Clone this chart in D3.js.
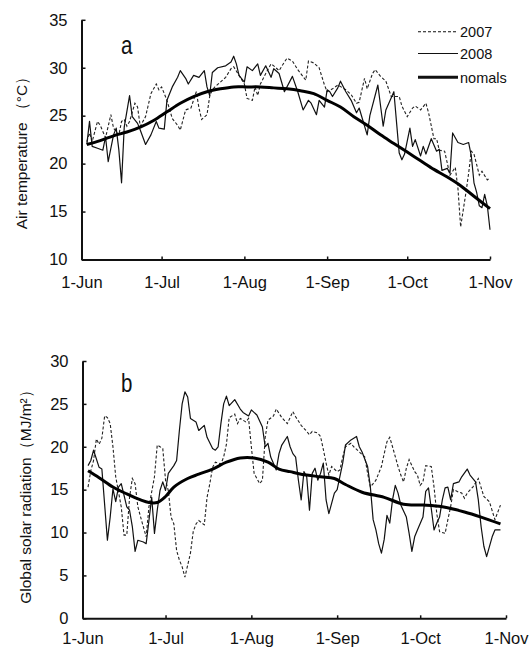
<!DOCTYPE html>
<html>
<head>
<meta charset="utf-8">
<script src="https://cdn.jsdelivr.net/npm/d3@7"></script>
<style>
  html, body { margin: 0; padding: 0; background: #fff; }
  svg { display: block; }
  text { font-family: Arial, "Liberation Sans", sans-serif; fill: #111; }
</style>
</head>
<body>
<svg id="chart" width="529" height="655"></svg>
<script>
// ---------------- DATA (day = days after 1 June) ----------------
const monthTicks = ["1-Jun", "1-Jul", "1-Aug", "1-Sep", "1-Oct", "1-Nov"];
const seriesNames = ["2007", "2008", "nomals"];
const tempTicks = [10, 15, 20, 25, 30, 35];
const radTicks = [0, 5, 10, 15, 20, 25, 30];

// Panel a: air temperature (°C)
const temp2007 = [[2,22.3],[3,23.2],[4,22.3],[6,24.4],[7,24.0],[9,22.7],[10,23.9],[11,25.1],[12,23.7],[14,23.0],[15,24.4],[16,24.6],[17,23.9],[18,24.4],[20,26.3],[21,25.9],[22,23.9],[24,24.9],[26,27.3],[28,28.3],[29,27.7],[30,28.0],[32,26.6],[34,24.7],[36,24.0],[37,23.5],[39,25.6],[41,25.8],[43,27.5],[44,25.8],[45,24.6],[47,25.1],[48,27.0],[49,27.7],[50,28.0],[52,28.5],[54,29.0],[56,29.9],[57,30.1],[59,29.2],[61,28.3],[62,26.8],[64,26.6],[65,28.0],[66,27.1],[67,28.3],[69,29.4],[71,30.4],[72,30.2],[74,29.7],[76,30.6],[77,31.0],[79,30.7],[81,29.8],[84,28.7],[85,30.7],[87,30.5],[89,30.0],[91,28.2],[92,27.5],[94,27.8],[96,28.2],[99,27.7],[101,27.2],[103,26.3],[104,26.4],[106,28.9],[107,27.8],[109,29.4],[110,29.8],[112,29.1],[114,28.6],[116,27.0],[119,27.0],[120,26.0],[122,24.9],[124,25.8],[125,26.0],[127,25.6],[129,26.3],[130,25.3],[132,22.6],[133,22.6],[134,21.4],[136,21.3],[138,18.8],[139,19.2],[140,19.6],[141,17.4],[142,13.4],[144,17.0],[145,19.0],[146,21.3],[147,21.0],[149,18.8],[150,19.2],[152,18.3],[153,18.5]];
const temp2008 = [[2,22.0],[3,24.4],[4,21.8],[6,21.6],[8,21.4],[9,22.8],[10,20.2],[12,23.0],[13,23.7],[14,21.4],[15,18.0],[16,23.8],[18,27.1],[19,24.9],[21,24.2],[22,23.5],[24,22.0],[26,23.0],[28,24.4],[29,23.7],[31,23.6],[32,26.6],[34,28.0],[36,29.0],[37,29.7],[39,28.9],[40,28.3],[42,29.2],[44,29.0],[46,29.7],[47,28.0],[48,27.1],[49,29.5],[51,30.0],[54,30.2],[56,30.6],[57,31.2],[58,30.4],[59,29.2],[61,28.5],[62,30.1],[64,29.7],[66,30.4],[67,29.2],[69,30.2],[71,29.0],[72,29.9],[74,29.4],[76,27.5],[79,29.1],[81,27.5],[83,25.6],[85,26.6],[86,26.3],[88,25.1],[89,26.6],[91,25.9],[92,27.7],[93,27.5],[94,27.0],[96,27.9],[97,28.6],[99,27.5],[101,26.6],[103,25.3],[104,25.8],[107,23.0],[108,25.0],[111,28.2],[113,23.9],[114,25.6],[117,27.5],[119,21.1],[120,20.4],[121,21.0],[123,23.7],[124,21.8],[125,22.5],[127,20.8],[128,21.8],[129,21.0],[131,22.6],[133,21.3],[134,21.5],[135,19.3],[137,19.5],[138,19.0],[139,23.2],[141,22.2],[143,22.0],[145,22.2],[146,20.8],[147,18.0],[148,17.0],[149,15.6],[150,15.4],[151,16.8],[152,15.6],[153,13.1]];
const tempNormals = [[2,22.0],[7,22.4],[12,22.9],[17,23.3],[22,23.8],[27,24.5],[32,25.4],[37,26.3],[42,27.0],[47,27.5],[52,27.8],[57,28.0],[62,28.0],[67,28.0],[72,27.9],[77,27.8],[82,27.6],[87,27.3],[92,26.6],[97,25.9],[102,24.9],[107,24.0],[112,23.0],[117,22.1],[122,21.2],[127,20.3],[132,19.4],[137,18.6],[142,17.7],[147,16.6],[153,15.3]];

// Panel b: global solar radiation (MJ/m²)
const rad2007 = [[2,15.3],[3,17.2],[4,18.4],[5,20.9],[6,20.3],[7,21.0],[8,23.6],[9,23.4],[10,22.7],[11,20.0],[12,16.5],[14,13.0],[15,9.7],[16,9.7],[17,14.1],[18,16.3],[19,15.7],[20,13.0],[21,11.8],[23,9.5],[24,13.0],[26,16.5],[27,20.2],[28,20.0],[29,19.8],[30,16.1],[31,14.9],[32,11.8],[33,11.0],[34,7.9],[35,6.8],[36,6.0],[37,4.8],[39,7.6],[40,10.1],[41,11.0],[42,11.4],[44,10.9],[45,14.1],[46,15.7],[47,17.6],[48,18.2],[50,18.0],[51,18.8],[52,20.3],[53,23.4],[55,23.8],[56,22.7],[57,23.3],[59,22.9],[60,23.3],[61,20.0],[62,16.9],[63,16.3],[64,15.7],[65,16.1],[66,21.1],[67,23.1],[69,23.6],[70,24.4],[72,23.4],[74,22.7],[76,24.1],[77,23.5],[79,22.5],[81,21.8],[82,21.4],[83,21.8],[85,21.6],[86,21.2],[87,19.7],[88,18.1],[89,16.7],[90,17.7],[92,17.1],[93,17.3],[94,18.8],[95,20.0],[97,20.4],[98,20.0],[100,19.4],[102,18.8],[103,16.9],[104,15.3],[106,16.1],[107,16.9],[108,17.7],[109,19.2],[110,20.6],[111,21.1],[112,20.0],[114,17.7],[115,16.7],[116,15.9],[117,17.5],[118,18.5],[120,17.1],[121,16.7],[122,15.5],[123,15.9],[124,17.8],[126,17.7],[127,15.3],[128,12.2],[129,10.1],[131,9.9],[132,11.5],[133,13.0],[134,15.0],[136,14.7],[137,14.6],[138,14.0],[139,14.6],[141,15.3],[143,16.3],[145,14.2],[147,13.6],[149,11.5],[151,13.2]];
const rad2008 = [[2,17.8],[3,18.4],[4,19.6],[6,17.6],[7,17.4],[9,9.1],[10,11.8],[11,15.1],[12,13.6],[13,15.3],[14,15.7],[16,13.0],[17,12.6],[18,10.7],[19,7.8],[20,9.1],[22,8.9],[23,8.7],[24,11.4],[25,14.1],[26,9.9],[27,12.6],[28,14.9],[29,15.9],[30,14.9],[31,16.9],[33,17.8],[34,18.4],[35,21.9],[36,25.0],[37,26.4],[38,25.8],[39,23.3],[41,22.9],[42,21.9],[44,22.5],[45,21.1],[47,19.8],[48,19.6],[49,20.0],[50,22.7],[51,25.0],[52,25.9],[53,24.8],[55,25.5],[57,24.4],[58,24.0],[60,23.6],[61,24.3],[63,23.7],[65,22.3],[66,20.0],[67,20.4],[68,18.8],[70,17.3],[71,19.2],[72,20.2],[74,21.2],[75,20.0],[76,19.2],[77,18.8],[78,16.1],[79,13.8],[80,17.1],[81,16.5],[82,12.6],[83,16.9],[84,17.5],[85,16.1],[86,16.9],[87,18.1],[88,13.8],[89,12.2],[91,14.6],[92,15.0],[94,18.1],[95,20.2],[97,20.8],[99,21.2],[100,20.0],[101,19.4],[103,17.7],[104,15.3],[105,11.5],[106,10.3],[107,8.7],[108,7.6],[109,9.2],[110,12.0],[111,11.1],[112,13.8],[113,15.5],[114,14.6],[115,13.2],[117,11.8],[118,9.9],[119,7.8],[120,9.5],[121,10.3],[123,11.8],[124,14.8],[125,15.2],[126,12.8],[127,10.3],[128,11.1],[129,11.8],[130,13.8],[131,15.2],[132,15.3],[133,13.8],[134,15.7],[136,15.9],[137,16.5],[139,17.4],[140,16.7],[142,15.9],[143,13.8],[144,10.7],[145,8.4],[146,7.2],[148,9.5],[149,10.3],[151,10.3]];
const radNormals = [[2,17.2],[6,16.4],[11,15.3],[16,14.5],[21,13.8],[24,13.5],[27,13.5],[30,14.2],[33,15.3],[38,16.3],[42,16.8],[47,17.4],[52,18.2],[57,18.7],[62,18.7],[67,18.2],[71,17.4],[75,17.1],[79,16.8],[86,16.5],[91,16.3],[95,15.6],[101,14.7],[109,14.1],[116,13.3],[123,13.2],[130,13.0],[138,12.4],[144,11.8],[151,11.0]];

// ---------------- DRAWING ----------------
const svg = d3.select("#chart");
svg.append("rect").attr("width", 529).attr("height", 655).attr("fill", "#fff");

const start = new Date(2000, 5, 1), end = new Date(2000, 10, 1);
const toDate = d => new Date(2000, 5, 1 + d);

function panel(cfg) {
  const x = d3.scaleTime().domain([start, end]).range(cfg.xr);
  const y = d3.scaleLinear().domain(cfg.yd).range(cfg.yr);
  const g = svg.append("g");

  const xa = g.append("g").attr("transform", `translate(0,${cfg.yr[0]})`)
    .call(d3.axisBottom(x).ticks(d3.timeMonth.every(1)).tickFormat((d, i) => monthTicks[i])
      .tickSizeInner(-3).tickSizeOuter(0).tickPadding(cfg.xpad));
  const ya = g.append("g").attr("transform", `translate(${cfg.xr[0]},0)`)
    .call(d3.axisLeft(y).tickValues(cfg.ticks).tickSizeInner(-4).tickSizeOuter(0).tickPadding(14));
  [xa, ya].forEach(a => {
    a.select(".domain").attr("stroke", "#111").attr("stroke-width", 2);
    a.selectAll(".tick line").attr("stroke", "#111").attr("stroke-width", 1.5);
    a.selectAll("text").attr("font-size", 16.5).attr("fill", "#111")
      .attr("font-family", 'Arial, "Liberation Sans", sans-serif');
  });

  const line = d3.line().x(d => x(toDate(d[0]))).y(d => y(d[1]));
  const smooth = d3.line().x(d => x(toDate(d[0]))).y(d => y(d[1])).curve(d3.curveCatmullRom.alpha(0.5));

  g.append("path").datum(cfg.s2007).attr("d", line).attr("fill", "none")
    .attr("stroke", "#222").attr("stroke-width", 1.1).attr("stroke-dasharray", "3,2");
  g.append("path").datum(cfg.s2008).attr("d", line).attr("fill", "none")
    .attr("stroke", "#111").attr("stroke-width", 1.2).attr("stroke-linejoin", "round");
  g.append("path").datum(cfg.norm).attr("d", smooth).attr("fill", "none")
    .attr("stroke", "#000").attr("stroke-width", 3);

  // panel letter
  g.append("text").attr("transform", `translate(${cfg.letterPos[0]},${cfg.letterPos[1]}) scale(0.82,1)`)
    .attr("font-size", 25).text(cfg.letter);

  // y title
  g.append("text").attr("transform", `translate(${cfg.titlePos[0]},${cfg.titlePos[1]}) rotate(-90)`)
    .attr("text-anchor", "middle").attr("font-size", 15.5).text(cfg.title);
}

panel({
  xr: [81.5, 490], yd: [10, 35], yr: [259.5, 19.8], ticks: tempTicks, xpad: 17,
  s2007: temp2007, s2008: temp2008, norm: tempNormals,
  letter: "a", letterPos: [121, 53.5], title: "Air temperature\u00a0（°C）", titlePos: [27, 149]
});
panel({
  xr: [82.5, 506], yd: [0, 30], yr: [618.3, 361], ticks: radTicks, xpad: 14,
  s2007: rad2007, s2008: rad2008, norm: radNormals,
  letter: "b", letterPos: [121, 391.5], title: "Global solar radiation（MJ/m²）", titlePos: [31, 493]
});

// legend (panel a)
const legendY = [31.7, 53.5, 77.3];
const legStyles = [
  { w: 1.1, dash: "3,2" },
  { w: 1.1, dash: null },
  { w: 3, dash: null }
];
const lg = svg.append("g");
seriesNames.forEach((name, i) => {
  lg.append("line").attr("x1", 418).attr("x2", 458).attr("y1", legendY[i]).attr("y2", legendY[i])
    .attr("stroke", "#111").attr("stroke-width", legStyles[i].w)
    .attr("stroke-dasharray", legStyles[i].dash);
  lg.append("text").attr("x", 460).attr("y", legendY[i] + 5.2).attr("font-size", 14.5).text(name);
});
</script>
</body>
</html>
